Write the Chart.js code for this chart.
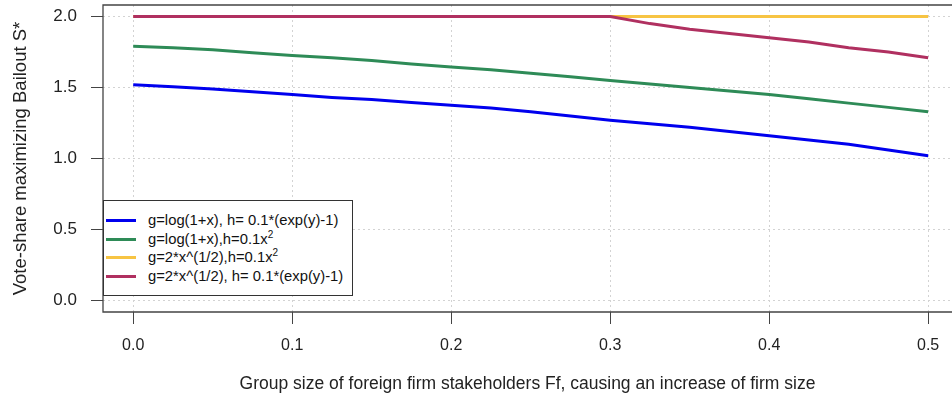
<!DOCTYPE html>
<html>
<head>
<meta charset="utf-8">
<title>Vote-share maximizing Bailout</title>
<script src="https://cdn.jsdelivr.net/npm/chart.js@4"></script>
<style>
  body {
    margin: 0;
    background: #ffffff;
    font-family: "Liberation Sans", Arial, sans-serif;
  }
  #wrap {
    position: relative;
    width: 952px;
    height: 405px;
  }
  #legend {
    position: absolute;
    left: 103px;
    top: 200px;
    width: 250px;
    height: 96px;
    box-sizing: border-box;
    border: 1px solid #333333;
    background: #ffffff;
    padding-top: 10px;
  }
  .legend-row {
    position: relative;
    height: 18.5px;
    font-size: 14.8px;
    line-height: 18.5px;
    color: #111111;
    white-space: nowrap;
  }
  .legend-row span.swatch {
    position: absolute;
    left: 2px;
    top: 8px;
    width: 30px;
    height: 3px;
  }
  .legend-row span.label {
    position: absolute;
    left: 44px;
  }
  .legend-row sup {
    font-size: 10px;
    line-height: 0;
  }
</style>
</head>
<body>
<div id="wrap">
  <canvas id="chart" width="952" height="405"></canvas>
  <div id="legend"></div>
</div>
<script>
// x positions (group size Ff)
const groupSize = [0, 0.025, 0.05, 0.075, 0.1, 0.125, 0.15, 0.175, 0.2, 0.225, 0.25,
  0.275, 0.3, 0.325, 0.35, 0.375, 0.4, 0.425, 0.45, 0.475, 0.5];

// series values
const logExp = [1.52, 1.505, 1.49, 1.47, 1.45, 1.43, 1.415, 1.395, 1.375, 1.355, 1.33,
  1.30, 1.27, 1.245, 1.22, 1.19, 1.16, 1.13, 1.10, 1.06, 1.02];
const logSq = [1.79, 1.78, 1.765, 1.745, 1.725, 1.71, 1.69, 1.665, 1.645, 1.625, 1.60,
  1.575, 1.55, 1.525, 1.50, 1.475, 1.45, 1.42, 1.39, 1.36, 1.33];
const sqrtSq = [2, 2, 2, 2, 2, 2, 2, 2, 2, 2, 2,
  2, 2, 2, 2, 2, 2, 2, 2, 2, 2];
const sqrtExp = [2, 2, 2, 2, 2, 2, 2, 2, 2, 2, 2,
  2, 2, 1.95, 1.91, 1.88, 1.85, 1.82, 1.78, 1.75, 1.71];

const seriesLabels = [
  "g=log(1+x), h= 0.1*(exp(y)-1)",
  "g=log(1+x),h=0.1x²",
  "g=2*x^(1/2),h=0.1x²",
  "g=2*x^(1/2), h= 0.1*(exp(y)-1)"
];

const xTicks = [0, 0.1, 0.2, 0.3, 0.4, 0.5];
const yTicks = [0, 0.5, 1, 1.5, 2];

(function() {
  "use strict";

  const FONT = "'Liberation Sans', Arial, sans-serif";
  const colors = ["#0000ee", "#2e8b57", "#f7c443", "#b03060"];

  /**
   * Pair up x positions with a series.
   */
  function points(values) {
    return values.map((v, i) => ({x: groupSize[i], y: v}));
  }

  // R style box: top, left and bottom edges of the plot region
  const boxPlugin = {
    id: "box",
    afterDraw(chart) {
      let a = chart.chartArea;
      let ctx = chart.ctx;
      ctx.save();
      ctx.strokeStyle = "#444444";
      ctx.lineWidth = 1.3;
      ctx.beginPath();
      ctx.moveTo(chart.width, a.top);
      ctx.lineTo(a.left, a.top);
      ctx.lineTo(a.left, a.bottom);
      ctx.lineTo(chart.width, a.bottom);
      ctx.stroke();
      ctx.restore();
    }
  };

  function makeLegend(datasets) {
    let legend = document.getElementById("legend");
    datasets.forEach(ds => {
      let row = document.createElement("div");
      row.className = "legend-row";
      let sw = document.createElement("span");
      sw.className = "swatch";
      sw.style.background = ds.borderColor;
      let label = document.createElement("span");
      label.className = "label";
      label.innerHTML = ds.label.replace("²", "<sup>2</sup>");
      row.appendChild(sw);
      row.appendChild(label);
      legend.appendChild(row);
    });
  }

  function init() {
    let allSeries = [logExp, logSq, sqrtSq, sqrtExp];
    let datasets = allSeries.map((vals, i) => ({
      label: seriesLabels[i],
      data: points(vals),
      borderColor: colors[i],
      borderWidth: 3,
      pointRadius: 0,
      fill: false,
      tension: 0,
      // keep the yellow line under the red one
      order: i == 2 ? 1 : 0
    }));

    let config = {
      type: "line",
      data: {datasets: datasets},
      options: {
        responsive: false,
        animation: false,
        devicePixelRatio: 1,
        layout: {padding: {top: 5, right: 0, left: 0, bottom: 0}},
        plugins: {
          legend: {display: false},
          tooltip: {enabled: false}
        },
        scales: {
          x: {
            type: "linear",
            min: -0.019,
            max: 0.515,
            afterBuildTicks: s => { s.ticks = xTicks.map(v => ({value: v})); },
            afterFit: s => {
              s.height = 93;
              s.paddingLeft = 0;
              s.paddingRight = 0;
            },
            grid: {color: "#d3d3d3", lineWidth: 1, tickColor: "#444444", tickLength: 12, tickWidth: 1},
            border: {display: false, dash: [2, 3]},
            ticks: {
              color: "#222222",
              font: {size: 16, family: FONT},
              padding: 12,
              maxRotation: 0,
              callback: v => v.toFixed(1)
            },
            title: {
              display: true,
              text: "Group size of foreign firm stakeholders Ff, causing an increase of firm size",
              color: "#222222",
              font: {size: 17.5, family: FONT},
              padding: {top: 2, bottom: 10}
            }
          },
          y: {
            type: "linear",
            min: -0.081,
            max: 2.081,
            afterBuildTicks: s => { s.ticks = yTicks.map(v => ({value: v})); },
            afterFit: s => {
              s.width = 103;
              s.paddingTop = 0;
              s.paddingBottom = 0;
            },
            grid: {color: "#d3d3d3", lineWidth: 1, tickColor: "#444444", tickLength: 12, tickWidth: 1},
            border: {display: false, dash: [2, 3]},
            ticks: {
              color: "#222222",
              font: {size: 17, family: FONT},
              padding: 14,
              callback: v => v.toFixed(1)
            },
            title: {
              display: true,
              text: "Vote-share maximizing Bailout S*",
              color: "#222222",
              font: {size: 18.5, family: FONT},
              padding: {top: 10, bottom: 0}
            }
          }
        }
      },
      plugins: [boxPlugin]
    };

    new Chart(document.getElementById("chart"), config);
    makeLegend(datasets);
  }

  init();
})();
</script>
</body>
</html>
